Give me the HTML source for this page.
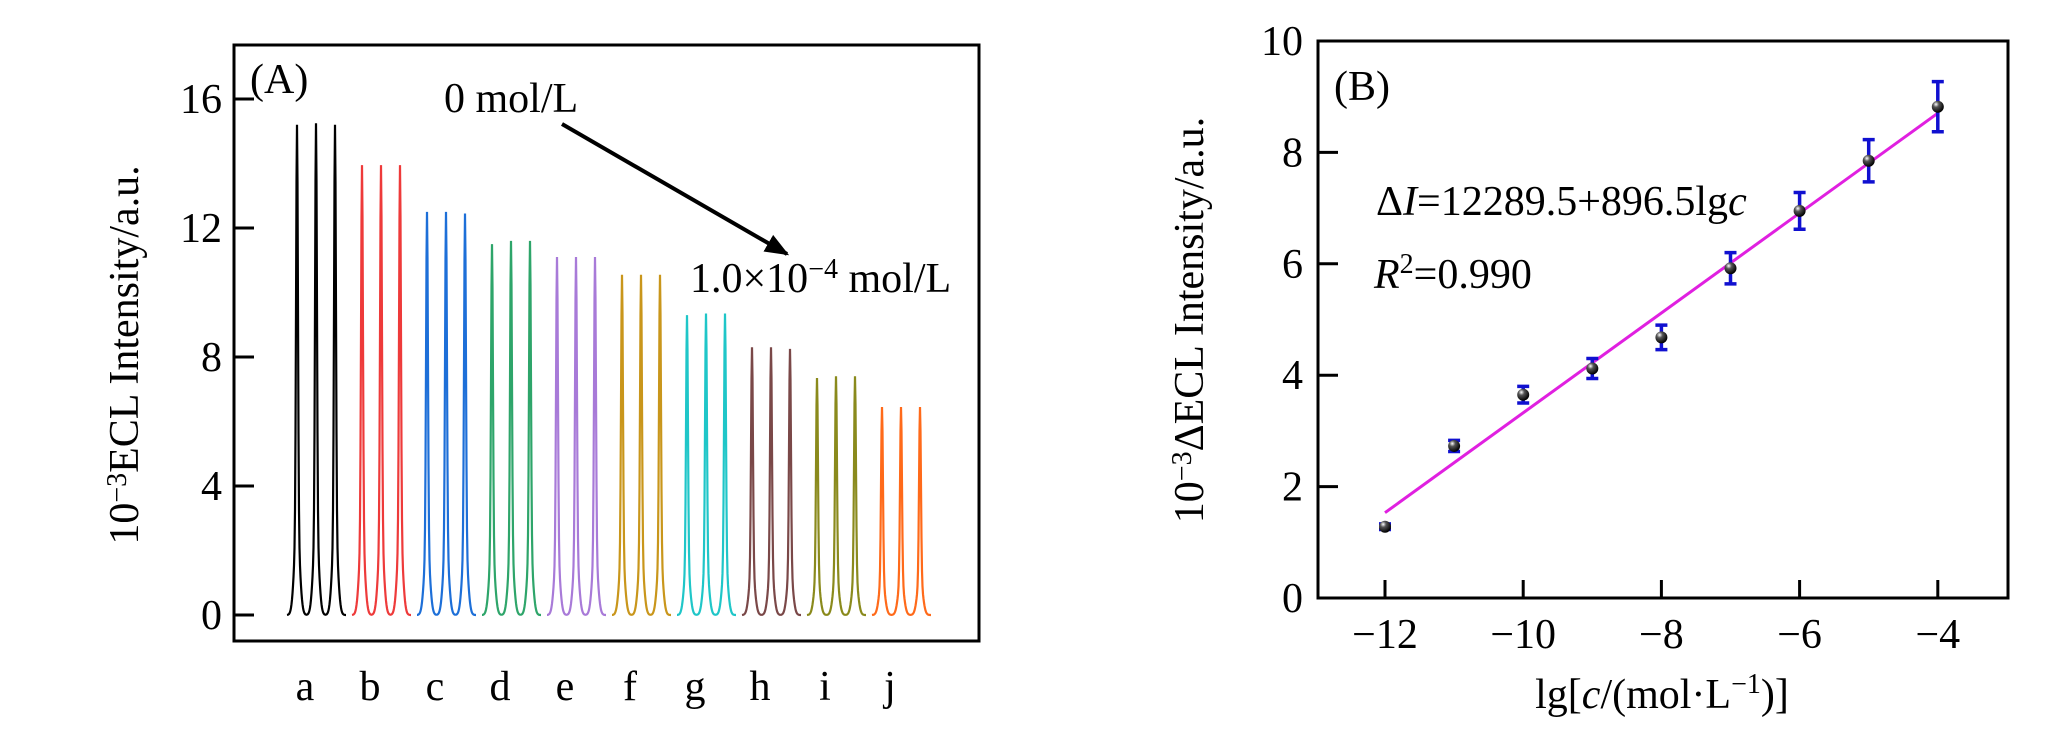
<!DOCTYPE html>
<html><head><meta charset="utf-8"><style>
body{margin:0;background:#fff}
svg{display:block;font-family:"Liberation Serif",serif}
</style></head><body>
<svg id="chart" width="2047" height="740" viewBox="0 0 2047 740">
<defs>
<radialGradient id="ball" cx="0.35" cy="0.3" r="0.7"><stop offset="0" stop-color="#fff"/><stop offset="0.35" stop-color="#555"/><stop offset="1" stop-color="#000"/></radialGradient>
<marker id="ah" viewBox="0 0 10 10" refX="9" refY="5" markerWidth="6" markerHeight="6" orient="auto"><path d="M0,1 L10,5 L0,9 Z" fill="#000"/></marker>
</defs>
<g id="pa"></g>
<g id="pb"></g>
</svg>
<script>
// Panel A data
const groupLabels = ["a","b","c","d","e","f","g","h","i","j"];
const groupColors = ["#000000","#ee3a3a","#1d6fd8","#2ea56a","#a87ad8","#c9961b","#1fc6c8","#7a4848","#8a8a1c","#ff6a1a"];
const peakHeights = [
 [15.2,15.25,15.2],[13.95,13.95,13.95],[12.5,12.5,12.45],[11.5,11.6,11.6],[11.1,11.1,11.1],
 [10.55,10.55,10.55],[9.3,9.35,9.35],[8.3,8.3,8.25],[7.35,7.4,7.4],[6.45,6.45,6.45]];
const aTicks = [0,4,8,12,16];
// Panel B data
const bX = [-12,-11,-10,-9,-8,-7,-6,-5,-4];
const bY = [1.28,2.73,3.65,4.12,4.68,5.92,6.95,7.85,8.82];
const bErr = [0.05,0.1,0.15,0.18,0.22,0.28,0.33,0.38,0.45];
const fitIntercept = 12.2895, fitSlope = 0.8965;
const bXTicks = [-12,-10,-8,-6,-4];
const bYTicks = [0,2,4,6,8,10];

const NS="http://www.w3.org/2000/svg";
function mk(p,tag,attrs,txt){const e=document.createElementNS(NS,tag);for(const k in attrs)e.setAttribute(k,attrs[k]);if(txt!=null)e.textContent=txt;p.appendChild(e);return e;}
const FS=42;

// ---- Panel A ----
const pa=document.getElementById('pa');
const ay=v=>615-v*32.25;
const ax=i=>287+i*65;
let fr=mk(pa,'rect',{x:234,y:45,width:745,height:596,fill:'none',stroke:'#000','stroke-width':3});


aTicks.forEach(t=>{
 let l=mk(pa,'line',{x1:234,x2:254,y1:ay(t),y2:ay(t),stroke:'#000','stroke-width':3});
 
 
 let tx=mk(pa,'text',{x:222,y:ay(t)+14,'text-anchor':'end','font-size':FS},String(t));
 
 
});
function shape(dx){return 0.82*Math.exp(-Math.pow(dx/1.3,2))+0.18*Math.exp(-Math.pow(dx/3.8,2));}
const offs=[10,29,48];
groupLabels.forEach((g,i)=>{
 const x0=ax(i);let d='';
 for(let x=0;x<=59;x+=0.5){let v=0;offs.forEach((o,k)=>{v+=peakHeights[i][k]*shape(x-o);});d+=(x?'L':'M')+(x0+x).toFixed(1)+','+ay(v).toFixed(1);}
 let p=mk(pa,'path',{d:d,fill:'none',stroke:groupColors[i],'stroke-width':2.2});
 
 
 let t=mk(pa,'text',{x:x0+18,y:700,'text-anchor':'middle','font-size':FS},g);
 
 
});
</script>
<script>
let t1=mk(pa,'text',{x:250,y:93,'font-size':FS},'(A)');


let t2=mk(pa,'text',{x:444,y:112,'font-size':FS},'0 mol/L');


let ar=mk(pa,'line',{x1:562,y1:124,x2:787,y2:254,stroke:'#000','stroke-width':4,'marker-end':'url(#ah)'});


let t3=mk(pa,'text',{x:690,y:292,'font-size':FS},'1.0×10');


mk(t3,'tspan',{dy:-14,'font-size':28},'−4');
mk(t3,'tspan',{dy:14},' mol/L');
let ya=mk(pa,'text',{x:0,y:0,'font-size':FS,'text-anchor':'middle',transform:'translate(138,355) rotate(-90)'},'10');


mk(ya,'tspan',{dy:-12,'font-size':28},'−3');
mk(ya,'tspan',{dy:12},'ECL Intensity/a.u.');

// ---- Panel B ----
const pb=document.getElementById('pb');
const bx=v=>1385+(v+12)*69.1;
const by=v=>598-v*55.7;
let fb=mk(pb,'rect',{x:1318,y:41,width:690,height:557,fill:'none',stroke:'#000','stroke-width':3});


bYTicks.forEach(t=>{
 if(t>0&&t<10){let l=mk(pb,'line',{x1:1318,x2:1338,y1:by(t),y2:by(t),stroke:'#000','stroke-width':3});
 
 }
 let tx=mk(pb,'text',{x:1303,y:by(t)+14,'text-anchor':'end','font-size':FS},String(t));
 
 
});
bXTicks.forEach(t=>{
 let l=mk(pb,'line',{x1:bx(t),x2:bx(t),y1:598,y2:580,stroke:'#000','stroke-width':3});
 
 
 let tx=mk(pb,'text',{x:bx(t),y:648,'text-anchor':'middle','font-size':FS},'−'+Math.abs(t));
 
 
});
let fit=mk(pb,'line',{x1:bx(bX[0]),y1:by(fitIntercept+fitSlope*bX[0]),x2:bx(bX[bX.length-1]),y2:by(fitIntercept+fitSlope*bX[bX.length-1]),stroke:'#e020e0','stroke-width':3});


bX.forEach((x,i)=>{
 const cx=bx(x),y1=by(bY[i]+bErr[i]),y2=by(bY[i]-bErr[i]);
 let e=mk(pb,'path',{d:`M${cx-6},${y1}H${cx+6}M${cx},${y1}V${y2}M${cx-6},${y2}H${cx+6}`,stroke:'#1010d0','stroke-width':3.5,fill:'none'});
 
 
 let c=mk(pb,'circle',{cx:cx,cy:by(bY[i]),r:6,fill:'url(#ball)'});
 
 
});
let tb=mk(pb,'text',{x:1334,y:100,'font-size':FS},'(B)');


let eq=mk(pb,'text',{x:1376,y:215,'font-size':FS},'Δ');


mk(eq,'tspan',{'font-style':'italic'},'I');
mk(eq,'tspan',{},'=12289.5+896.5lg');
mk(eq,'tspan',{'font-style':'italic'},'c');
let r2=mk(pb,'text',{x:1374,y:288,'font-size':FS},'');


mk(r2,'tspan',{'font-style':'italic'},'R');
mk(r2,'tspan',{dy:-15,'font-size':28},'2');
mk(r2,'tspan',{dy:15},'=0.990');
let yb=mk(pb,'text',{x:0,y:0,'font-size':FS,'text-anchor':'middle',transform:'translate(1203,320) rotate(-90)'},'10');


mk(yb,'tspan',{dy:-12,'font-size':28},'−3');
mk(yb,'tspan',{dy:12},'ΔECL Intensity/a.u.');
let xb=mk(pb,'text',{x:1662,y:708,'font-size':FS,'text-anchor':'middle'},'lg[');


mk(xb,'tspan',{'font-style':'italic'},'c');
mk(xb,'tspan',{},'/(mol·L');
mk(xb,'tspan',{dy:-15,'font-size':28},'−1');
mk(xb,'tspan',{dy:15},')]');
</script>
</body></html>
